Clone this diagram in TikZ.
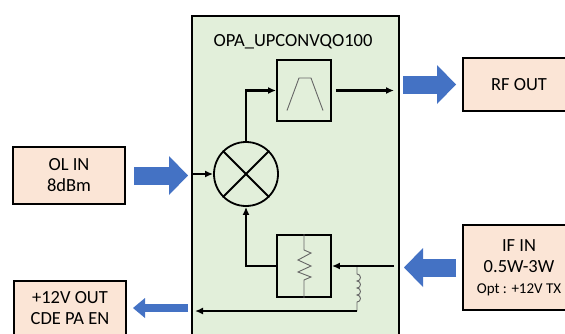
\documentclass[tikz,border=0pt]{standalone}
\usepackage{fontspec}
\setmainfont{Carlito}
\usetikzlibrary{arrows.meta}
\definecolor{unitgreen}{HTML}{E2EFDA}
\definecolor{portpeach}{HTML}{FBE5D6}
\definecolor{portblue}{HTML}{4472C4}
\tikzset{
	port/.style={draw, line width=2pt, fill=portpeach, align=center, inner sep=0pt, minimum width=112pt, font=\fontsize{18.5}{21}\selectfont},
	blk/.style={draw, line width=1.8pt, minimum width=54pt, minimum height=62pt, inner sep=0pt},
	sig/.style={line width=2.2pt, -{Latex[length=8pt,width=7pt]}},
	part/.style={line width=0.9pt, black!60},
	fat/.style={portblue, line width=18pt, -{Triangle[length=19pt,width=39pt,line width=0pt]}},
	slim/.style={portblue, line width=8pt, -{Triangle[length=12pt,width=20pt,line width=0pt]}}
}
\begin{document}
\begin{tikzpicture}[x=1pt, y=-1pt]
		\useasboundingbox (0,0) rectangle (565,333);
		\clip (0,0) rectangle (565,333);
		% module
		\node[draw, line width=2pt, fill=unitgreen, minimum width=207pt, minimum height=330pt, anchor=north west] (unit) at (191,15) {};
		\node[font=\fontsize{18.5}{21}\selectfont] (title) at (293,42) {OPA\_UPCONVQO100};
		% ports
		\node[port, minimum height=57pt] (olin) at (69,175.5) {OL IN\\8dBm};
		\node[port, minimum height=53pt] (rfout) at (519,84.5) {RF OUT};
		\node[port, minimum height=85pt] (ifin) at (519,267.5) {IF IN\\0.5W-3W\\{\fontsize{15}{18}\selectfont Opt : +12V TX}};
		\node[port, minimum height=54pt] (pwr) at (70,308) {+12V OUT\\CDE PA EN};
		% inner parts
		\node[draw, circle, line width=1.8pt, minimum size=64pt, inner sep=0pt] (mix) at (246,174) {};
		\draw[line width=1.8pt] (mix.north west) -- (mix.south east);
		\draw[line width=1.8pt] (mix.north east) -- (mix.south west);
		\node[blk, minimum height=61pt] (flt) at (304,90.5) {};
		\draw[part] ([shift={(-17,20)}]flt.center) -- ([shift={(-5,-12.5)}]flt.center) -- ([shift={(7,-12.5)}]flt.center) -- ([shift={(19,20)}]flt.center);
		\node[blk] (res) at (304,266) {};
		\draw[part] (res.north) -- (304,250) -- (311,253) -- (298,260) -- (311,266) -- (298,272) -- (311,277) -- (304,280) -- (res.south);
		\coordinate (tap) at (357,266);
		\coordinate (coilend) at (357,311);
		\draw[part] (tap) -- (357,274) arc[start angle=-90, end angle=90, radius=3.5] arc[start angle=-90, end angle=90, radius=3.5] arc[start angle=-90, end angle=90, radius=3.5] arc[start angle=-90, end angle=90, radius=3.5] -- (coilend);
		% signal paths
		\draw[sig] (mix.north) |- (flt.west);
		\draw[sig] ([xshift=4pt]flt.east) -- ([xshift=-6pt]unit.east |- flt.east);
		\draw[sig] ([xshift=2pt]unit.west |- mix) -- (mix.west);
		\draw[sig] ([xshift=-6pt]unit.east |- res.east) -- (res.east);
		\draw[sig] (res.west) -| (mix.south);
		\draw[sig] (coilend) -- ([xshift=4pt]unit.west |- coilend);
		% outside arrows
		\draw[fat] ([xshift=8pt]olin.east) -- ([xshift=-3pt]unit.west |- olin);
		\draw[fat] ([xshift=3pt]unit.east |- rfout) -- ([xshift=-6pt]rfout.west);
		\draw[fat] ([xshift=-6pt]ifin.west) -- ([xshift=4pt]unit.east |- ifin);
		\draw[slim] ([xshift=-3pt]unit.west |- pwr) -- ([xshift=6pt]pwr.east);
	\end{tikzpicture}
\end{document}
